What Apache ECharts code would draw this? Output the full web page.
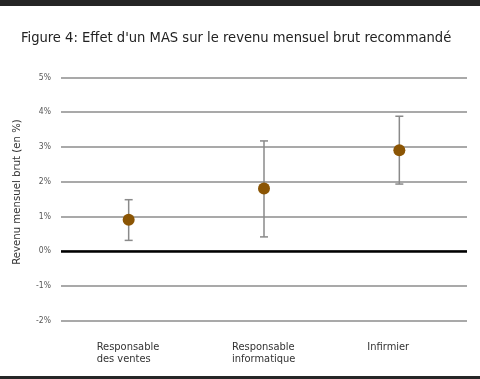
<!DOCTYPE html>
<html><head><meta charset="utf-8">
<script src="https://cdn.jsdelivr.net/npm/echarts@6/dist/echarts.min.js"></script>
<style>html,body{margin:0;padding:0;background:#fff}#c{width:480px;height:379px}</style>
</head><body><div id="c"></div>
<script>
const categories = ['Responsable\ndes ventes', 'Responsable\ninformatique', 'Infirmier'];
const estimates = [0.9, 1.8, 2.9];
const lowerBounds = [0.31, 0.41, 1.93];
const upperBounds = [1.48, 3.17, 3.88];
const yTicks = [-2, -1, 0, 1, 2, 3, 4, 5];

const chart = echarts.init(document.getElementById('c'));
const font = '"DejaVu Sans Condensed", "Liberation Sans", sans-serif';
chart.setOption({
  animation: false,
  backgroundColor: '#fff',
  title: {
    text: "Figure 4: Effet d'un MAS sur le revenu mensuel brut recommandé",
    left: 21, top: 30.5, padding: 0,
    textStyle: { fontFamily: font, fontSize: 14.6, fontWeight: 'normal', color: '#222' }
  },
  graphic: [
    { type: 'rect', shape: { x: 0, y: 0, width: 480, height: 6 }, style: { fill: '#262626' } },
    { type: 'rect', shape: { x: 0, y: 376, width: 480, height: 3 }, style: { fill: '#262626' } },
    { type: 'text', x: 17, y: 192, rotation: Math.PI / 2,
      style: { text: 'Revenu mensuel brut (en %)', fontFamily: font, fontSize: 11.3, fill: '#333',
               textAlign: 'center', textVerticalAlign: 'middle' } }
  ],
  grid: { left: 61, right: 13, top: 77.3, bottom: 58.3, containLabel: false },
  xAxis: {
    type: 'category', data: categories, boundaryGap: true,
    axisLine: { show: false }, axisTick: { show: false },
    axisLabel: {
      margin: 20, fontFamily: font, fontSize: 11, color: '#333', lineHeight: 12.5,
      formatter: function (v) { return v.split('\n').map(s => '{a|' + s + '}').join('\n'); },
      rich: { a: { width: 64, align: 'left', fontFamily: font, fontSize: 11, color: '#333', lineHeight: 12.5 } }
    }
  },
  yAxis: {
    type: 'value', min: -2, max: 5, interval: 1,
    axisLine: { show: false }, axisTick: { show: false },
    axisLabel: { margin: 10, fontFamily: font, fontSize: 8.5, color: '#555', formatter: v => v + '%' },
    splitLine: { lineStyle: { color: '#8c8c8c', width: 1.5 } }
  },
  series: [
    {
      type: 'custom',
      data: categories.map((c, i) => [i, lowerBounds[i], upperBounds[i]]),
      renderItem: function (params, api) {
        const x = api.value(0);
        const lo = api.coord([x, api.value(1)]);
        const hi = api.coord([x, api.value(2)]);
        const cw = 4;
        const st = { stroke: '#8a8a8a', lineWidth: 1.5 };
        return { type: 'group', children: [
          { type: 'line', shape: { x1: lo[0], y1: lo[1], x2: hi[0], y2: hi[1] }, style: st },
          { type: 'line', shape: { x1: lo[0] - cw, y1: lo[1], x2: lo[0] + cw, y2: lo[1] }, style: st },
          { type: 'line', shape: { x1: hi[0] - cw, y1: hi[1], x2: hi[0] + cw, y2: hi[1] }, style: st }
        ]};
      },
      z: 3
    },
    {
      type: 'scatter', data: estimates, symbol: 'circle', symbolSize: 12,
      itemStyle: { color: '#8b5504', opacity: 1 }, z: 5,
      markLine: {
        silent: true, symbol: 'none', label: { show: false },
        lineStyle: { color: '#000', width: 2.5, type: 'solid' },
        data: [{ yAxis: 0 }]
      }
    }
  ]
});
</script></body></html>
